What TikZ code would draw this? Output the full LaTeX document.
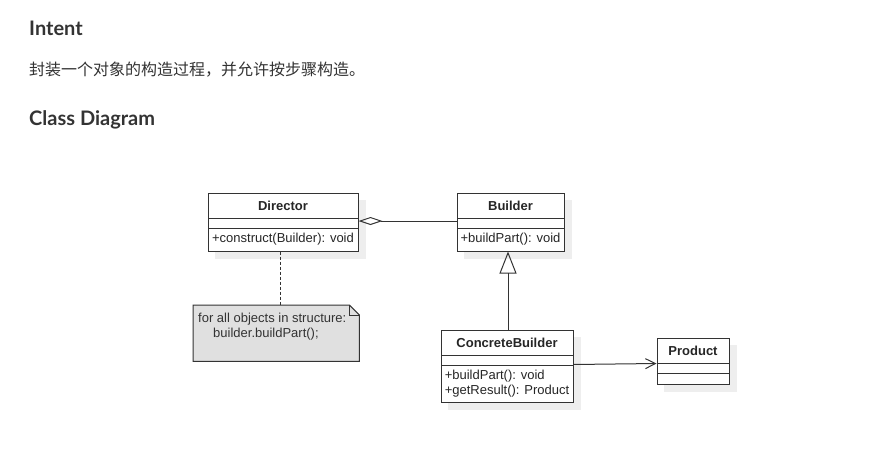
\documentclass[tikz,border=0pt]{standalone}
\usepackage{fontspec}
\newfontfamily\headfont{Lato}
\newfontfamily\cjkfont{Noto Sans CJK SC}
\newfontfamily\umlfont{Liberation Sans}
\usetikzlibrary{arrows.meta}
\usetikzlibrary{backgrounds}

\definecolor{inkc}{HTML}{333333}
\definecolor{shadowc}{HTML}{EEEEEE}
\definecolor{notec}{HTML}{E0E0E0}

\tikzset{
  uml/.style={draw=inkc, fill=white, line width=1pt, inner sep=0pt, text=black!85,
    font=\fontsize{13}{15}\selectfont\umlfont},
  umlname/.style={uml, minimum height=25pt, font=\fontsize{13}{15}\selectfont\umlfont\bfseries},
  umlattr/.style={uml, minimum height=10pt},
  umlops/.style={uml, align=left},
  umlshadow/.style={fill=shadowc},
  heading/.style={anchor=base west, inner sep=0pt, text=inkc, font=\fontsize{20}{24}\selectfont\headfont\bfseries},
  notetext/.style={anchor=north west, align=left, inner xsep=5pt, inner ysep=7.5pt, text=inkc,
    font=\fontsize{13}{15}\selectfont\umlfont},
}

\begin{document}
\begin{tikzpicture}[x=1pt,y=-1pt]
\useasboundingbox (0,0) rectangle (870,460);
\path (29,36) node[heading](intent) {Intent}
(29,76) node[anchor=base west, inner sep=0pt, text=inkc, font=\fontsize{16}{19}\selectfont\cjkfont](intent_text) {封装一个对象的构造过程，并允许按步骤构造。}
(29,125) node[heading](class_diagram) {Class Diagram}
;
% classes
\path (283,205.5) node[umlname, minimum width=150pt](dir_name) {Director}
(283,223) node[umlattr, minimum width=150pt](dir_attr) {}
(283,239.5) node[umlops, minimum width=150pt, minimum height=23pt](dir_ops) {+construct(Builder): void}
(510.5,205.5) node[umlname, minimum width=107pt](bld_name) {Builder}
(510.5,223) node[umlattr, minimum width=107pt](bld_attr) {}
(510.5,239.5) node[umlops, minimum width=107pt, minimum height=23pt](bld_ops) {+buildPart(): void}
(507,342.5) node[umlname, minimum width=132pt](cb_name) {ConcreteBuilder}
(507,360) node[umlattr, minimum width=132pt](cb_attr) {}
(507,383.5) node[umlops, minimum width=132pt, minimum height=37pt](cb_ops) {+buildPart(): void\\+getResult(): Product}
(693,350.5) node[umlname, minimum width=72pt](prod_name) {Product}
(693,368) node[umlattr, minimum width=72pt](prod_attr) {}
(693,378.5) node[umlattr, minimum width=72pt, minimum height=11pt](prod_ops) {}
;
\coordinate (inh_x) at (508,0);
\begin{scope}[on background layer]
\foreach \a/\b in {dir_name/dir_ops, bld_name/bld_ops, cb_name/cb_ops, prod_name/prod_ops}
  \fill[umlshadow] ([xshift=7pt,yshift=-7pt]\a.north west) rectangle ([xshift=7pt,yshift=-7pt]\b.south east);
\end{scope}

% note
\path (193,305) node[anchor=north west, minimum width=166pt, minimum height=56pt, inner sep=0pt](note) {};
\filldraw[fill=notec, draw=inkc, line width=1pt] (note.north west) -- ([xshift=-10pt]note.north east)
  -- ([yshift=-10pt]note.north east) -- (note.south east) -- (note.south west) -- cycle;
\draw[inkc, line width=0.8pt] ([xshift=-10pt]note.north east) -- ([xshift=-10pt,yshift=-10pt]note.north east)
  -- ([yshift=-10pt]note.north east);
\path (note.north west) node[notetext](note_text) {for all objects in structure:\\\hspace*{15pt}builder.buildPart();};

% connectors
\draw[inkc, line width=1pt, {Diamond[open, length=24pt, width=8pt]}-] ([yshift=2pt]dir_attr.east) -- ([yshift=2pt]bld_attr.west);
\draw[inkc, line width=1pt, dashed, dash pattern=on 3pt off 2pt] ([xshift=-3pt]dir_ops.south) -- ([xshift=-3pt]dir_ops.south |- note.north);
\draw[inkc, line width=1pt, -{Triangle[open, length=22pt, width=17pt]}] (cb_name.north -| inh_x) -- (bld_ops.south -| inh_x);
\draw[inkc, line width=1pt, -{Straight Barb[length=10pt, width=10pt]}] (cb_ops.north east) -- (prod_name.south west);

\end{tikzpicture}
\end{document}
